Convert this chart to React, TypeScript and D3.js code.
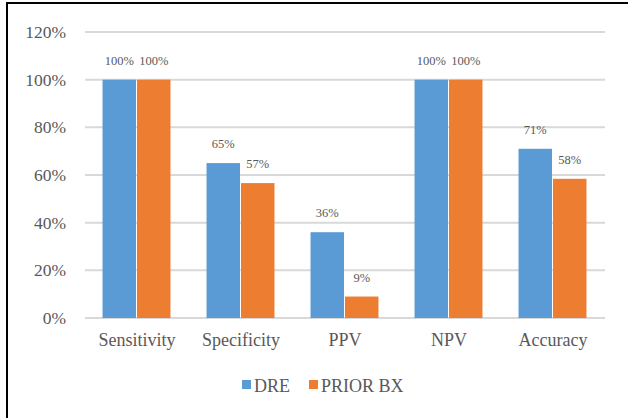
import React from "react";
import * as d3 from "d3";

const categories = ["Sensitivity", "Specificity", "PPV", "NPV", "Accuracy"];
const seriesNames = ["DRE", "PRIOR BX"];
const dreValues = [1.0, 0.65, 0.36, 1.0, 0.71];
const priorValues = [1.0, 0.566, 0.09, 1.0, 0.584];
const dreLabels = ["100%", "65%", "36%", "100%", "71%"];
const priorLabels = ["100%", "57%", "9%", "100%", "58%"];
const yTicks = [0, 0.2, 0.4, 0.6, 0.8, 1.0, 1.2];
const colors = ["#5B9BD5", "#ED7D31"];

const W = 628;
const H = 419;
const FONT = "'Liberation Serif', 'Times New Roman', serif";
const TXT = "#595959";

export default function App() {
  const x0 = d3.scaleBand<string>().domain(categories).range([85, 605]).paddingInner(0.337).paddingOuter(0.1685);
  const x1 = d3.scaleBand<string>().domain(seriesNames).range([0, x0.bandwidth()]).padding(0);
  const y = d3.scaleLinear().domain([0, 1.2]).range([318, 32]);
  const series = [
    { name: seriesNames[0], values: dreValues, labels: dreLabels },
    { name: seriesNames[1], values: priorValues, labels: priorLabels },
  ];
  const fmt = d3.format(".0%");

  return (
    <svg width={W} height={H} style={{ position: "absolute", left: 0, top: 0, background: "#fff" }} fontFamily={FONT}>
      <rect x={0} y={0} width={W} height={H} fill="#fff" />
      {/* border */}
      <line x1={6} x2={W} y1={3} y2={3} stroke="#000" strokeWidth={2} />
      <line x1={7} x2={7} y1={2} y2={418} stroke="#000" strokeWidth={2} />
      {/* gridlines */}
      {yTicks.map((t) => (
        <line key={t} x1={85} x2={605} y1={y(t)} y2={y(t)} stroke="#D9D9D9" strokeWidth={2} />
      ))}
      {/* y tick labels */}
      {yTicks.map((t) => (
        <text key={"l" + t} x={66} y={y(t)} dy="0.35em" textAnchor="end" fontSize={17.5} fill={TXT}>
          {fmt(t)}
        </text>
      ))}
      {/* bars */}
      {series.map((s, si) =>
        categories.map((c, ci) => {
          const bx = (x0(c) as number) + (x1(s.name) as number);
          const bw = x1.bandwidth() - 1;
          const by = y(s.values[ci]);
          return (
            <g key={s.name + c}>
              <rect x={bx} y={by} width={bw} height={y(0) - by} fill={colors[si]} />
              <text x={bx + bw / 2} y={by - 15} textAnchor="middle" fontSize={12.5} fill={TXT}>
                {s.labels[ci]}
              </text>
            </g>
          );
        })
      )}
      {/* category labels */}
      {categories.map((c) => (
        <text key={c} x={(x0(c) as number) + x0.bandwidth() / 2} y={346} textAnchor="middle" fontSize={18} fill={TXT}>
          {c}
        </text>
      ))}
      {/* legend */}
      <g>
        <rect x={242} y={380} width={9} height={9} fill={colors[0]} />
        <text x={254} y={392} fontSize={18} fill={TXT}>{seriesNames[0]}</text>
        <rect x={309} y={380} width={9} height={9} fill={colors[1]} />
        <text x={321} y={392} fontSize={18} fill={TXT}>{seriesNames[1]}</text>
      </g>
    </svg>
  );
}
